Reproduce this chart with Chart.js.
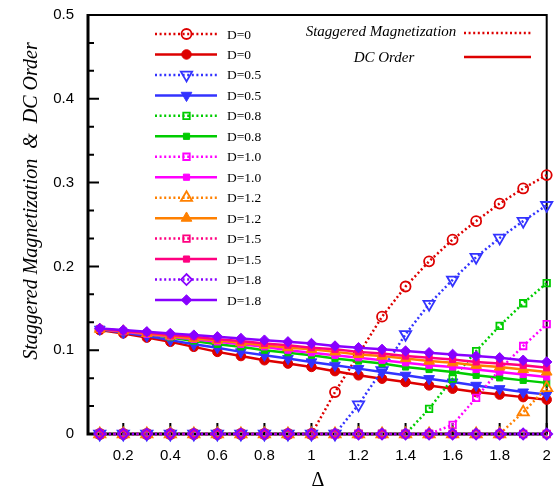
<!DOCTYPE html>
<html><head><meta charset="utf-8">
<script src="https://cdn.jsdelivr.net/npm/chart.js@4/dist/chart.umd.min.js"></script>
<style>html,body{margin:0;padding:0;background:#fff;}#wrap{width:555px;height:489px;position:relative;}</style>
</head><body><div id="wrap"><canvas id="c"></canvas></div>
<script>
// ---- data ----
const deltas = [0.1,0.2,0.3,0.4,0.5,0.6,0.7,0.8,0.9,1.0,1.1,1.2,1.3,1.4,1.5,1.6,1.7,1.8,1.9,2.0];
const dLabels = ['D=0','D=0.5','D=0.8','D=1.0','D=1.2','D=1.5','D=1.8'];

const stag_D0  = [0,0,0,0,0,0,0,0,0,0,0.050,0.095,0.140,0.176,0.206,0.232,0.254,0.275,0.293,0.309];
const stag_D05 = [0,0,0,0,0,0,0,0,0,0,0,0.035,0.076,0.119,0.155,0.184,0.211,0.234,0.254,0.273];
const stag_D08 = [0,0,0,0,0,0,0,0,0,0,0,0,0,0,0.030,0.066,0.099,0.129,0.156,0.180];
const stag_D10 = [0,0,0,0,0,0,0,0,0,0,0,0,0,0,0,0.011,0.043,0.077,0.105,0.131];
const stag_D12 = [0,0,0,0,0,0,0,0,0,0,0,0,0,0,0,0,0,0,0.026,0.055];
const stag_D15 = [0,0,0,0,0,0,0,0,0,0,0,0,0,0,0,0,0,0,0,0];
const stag_D18 = [0,0,0,0,0,0,0,0,0,0,0,0,0,0,0,0,0,0,0,0];

const dc_D0  = [0.124,0.120,0.115,0.110,0.104,0.098,0.093,0.088,0.084,0.080,0.075,0.070,0.066,0.062,0.058,0.054,0.050,0.047,0.044,0.041];
const dc_D05 = [0.125,0.121,0.117,0.112,0.107,0.103,0.098,0.094,0.090,0.086,0.082,0.078,0.074,0.070,0.066,0.062,0.058,0.054,0.050,0.047];
const dc_D08 = [0.125,0.122,0.119,0.115,0.111,0.107,0.104,0.100,0.097,0.094,0.090,0.087,0.084,0.080,0.077,0.074,0.070,0.067,0.064,0.061];
const dc_D10 = [0.125,0.122,0.119,0.116,0.113,0.110,0.107,0.104,0.100,0.097,0.094,0.091,0.088,0.085,0.082,0.080,0.077,0.074,0.071,0.068];
const dc_D12 = [0.125,0.123,0.120,0.117,0.114,0.112,0.109,0.106,0.103,0.101,0.098,0.095,0.093,0.090,0.087,0.085,0.082,0.080,0.077,0.074];
const dc_D15 = [0.126,0.123,0.121,0.118,0.116,0.113,0.111,0.108,0.106,0.103,0.101,0.098,0.096,0.093,0.091,0.089,0.086,0.084,0.082,0.079];
const dc_D18 = [0.126,0.124,0.122,0.120,0.118,0.116,0.114,0.112,0.110,0.108,0.105,0.103,0.101,0.099,0.097,0.095,0.093,0.091,0.088,0.086];

const xTickVals = [0.2,0.4,0.6,0.8,1.0,1.2,1.4,1.6,1.8,2.0];
const yTickVals = [0,0.1,0.2,0.3,0.4,0.5];

const stagSeries = [stag_D0,stag_D05,stag_D08,stag_D10,stag_D12,stag_D15,stag_D18];
const dcSeries = [dc_D0,dc_D05,dc_D08,dc_D10,dc_D12,dc_D15,dc_D18];

// ---- styles ----
const colors = ['#dd0000','#3333ff','#00cc00','#ff00ff','#ff8000','#ff0080','#8800ff'];
const marks = [
  {style:'circle', r:5, rot:0},
  {style:'triangle', r:6.5, rot:180},
  {style:'rect', r:4.6, rot:0},
  {style:'rect', r:4.6, rot:0},
  {style:'triangle', r:6.5, rot:0},
  {style:'rect', r:4.6, rot:0},
  {style:'rectRot', r:5.5, rot:0}
];

const datasets = [];
for (let k = 0; k < dLabels.length; k++) {
  const c = colors[k], m = marks[k];
  datasets.push({
    label: dLabels[k] + ' stag',
    data: deltas.map((x,i)=>({x:x, y:stagSeries[k][i]})),
    borderColor: c, borderWidth: 2.5, borderDash: [2,2.6],
    pointStyle: m.style, pointRadius: m.r, pointRotation: m.rot,
    pointBorderColor: c, pointBackgroundColor: 'rgba(0,0,0,0)', pointBorderWidth: 1.8,
    tension: 0, clip: false
  });
  datasets.push({
    label: dLabels[k] + ' dc',
    data: deltas.map((x,i)=>({x:x, y:dcSeries[k][i]})),
    borderColor: c, borderWidth: 2.5,
    pointStyle: m.style, pointRadius: m.r*0.95, pointRotation: m.rot,
    pointBorderColor: c, pointBackgroundColor: c, pointBorderWidth: 1,
    tension: 0, clip: false
  });
}
datasets.forEach((d,i)=>{ d.order = datasets.length - i; });

const fmt = v => String(+(+v).toFixed(1));
const zeroPad = s => { s.paddingLeft = 0; s.paddingRight = 0; s.paddingTop = 0; s.paddingBottom = 0; };

const framePlugin = {
  id: 'frame',
  beforeDatasetsDraw(chart) {
    const {ctx, chartArea: a, scales: {x, y}} = chart;
    ctx.save();
    ctx.strokeStyle = '#000';
    ctx.lineWidth = 2;
    ctx.beginPath();
    xTickVals.forEach(v => { const px = x.getPixelForValue(v); ctx.moveTo(px, a.bottom); ctx.lineTo(px, a.bottom - 11); });
    yTickVals.forEach(v => { const py = y.getPixelForValue(v); ctx.moveTo(a.left, py); ctx.lineTo(a.left + 11, py); });
    for (let j = 0; j <= 15; j++) {
      if (j % 3 === 0) continue;
      const py = y.getPixelForValue(j/30);
      ctx.moveTo(a.left, py); ctx.lineTo(a.left + 6, py);
    }
    ctx.stroke();
    ctx.lineWidth = 2;
    ctx.beginPath();
    ctx.moveTo(a.left, a.top); ctx.lineTo(a.right, a.top); ctx.lineTo(a.right, a.bottom);
    ctx.stroke();
    ctx.lineWidth = 3;
    ctx.beginPath();
    ctx.moveTo(a.left, a.top - 1); ctx.lineTo(a.left, a.bottom); ctx.lineTo(a.right + 1, a.bottom);
    ctx.stroke();
    ctx.restore();
  },
  afterDraw(chart) {
    const {ctx} = chart;
    ctx.save();
    ctx.fillStyle = '#000';
    ctx.font = 'italic 20px "Liberation Serif"';
    ctx.textAlign = 'center'; ctx.textBaseline = 'middle';
    ctx.save();
    ctx.translate(32, 201); ctx.rotate(-Math.PI/2);
    ctx.fillText('Staggered Magnetization  &  DC Order', 0, 0);
    ctx.restore();
    ctx.font = '20px "Liberation Serif"';
    ctx.fillText('\u0394', 318, 481);

    const ds = chart.data.datasets;
    ctx.font = '13.5px "Liberation Serif"';
    ctx.textAlign = 'left'; ctx.textBaseline = 'middle';
    for (let i = 0; i < ds.length; i++) {
      const d = ds[i];
      const yy = 34 + i * 20.46;
      ctx.strokeStyle = d.borderColor; ctx.lineWidth = 2.5;
      ctx.setLineDash(d.borderDash || []);
      ctx.beginPath(); ctx.moveTo(155, yy); ctx.lineTo(217, yy); ctx.stroke();
      ctx.setLineDash([]);
      ctx.fillStyle = d.pointBackgroundColor; ctx.strokeStyle = d.pointBorderColor;
      ctx.lineWidth = d.pointBorderWidth;
      Chart.helpers.drawPoint(ctx, {pointStyle: d.pointStyle, radius: d.pointRadius, rotation: d.pointRotation, borderWidth: d.pointBorderWidth}, 186.5, yy);
      ctx.fillStyle = '#000';
      ctx.fillText(d.label.split(' ')[0], 227, yy + 1);
    }
    ctx.font = 'italic 15px "Liberation Serif"';
    ctx.textAlign = 'center';
    ctx.fillText('Staggered Magnetization', 381, 32);
    ctx.fillText('DC Order', 384, 58);
    ctx.strokeStyle = colors[0]; ctx.lineWidth = 2.5;
    ctx.setLineDash([2,2.6]);
    ctx.beginPath(); ctx.moveTo(464, 33); ctx.lineTo(531, 33); ctx.stroke();
    ctx.setLineDash([]);
    ctx.beginPath(); ctx.moveTo(464, 57); ctx.lineTo(531, 57); ctx.stroke();
    ctx.restore();
  }
};

new Chart(document.getElementById('c'), {
  type: 'line',
  data: { datasets: datasets },
  options: {
    responsive: true, maintainAspectRatio: false, animation: false,
    layout: { padding: { top: 15, right: 7, left: 0, bottom: 0 } },
    plugins: { legend: { display: false }, tooltip: { enabled: false } },
    scales: {
      x: {
        type: 'linear', min: 0.05, max: 2.0,
        afterBuildTicks: s => { s.ticks = xTickVals.map(v => ({value: v})); },
        afterFit: s => { s.height = 55; zeroPad(s); },
        grid: { display: false, drawTicks: false },
        border: { display: false },
        ticks: { callback: v => fmt(v), color: '#000', padding: 13, maxRotation: 0, autoSkip: false,
                 font: { family: '"Liberation Sans"', size: 15 } }
      },
      y: {
        type: 'linear', min: 0, max: 0.5,
        afterBuildTicks: s => { s.ticks = yTickVals.map(v => ({value: v})); },
        afterFit: s => { s.width = 88; zeroPad(s); },
        grid: { display: false, drawTicks: false },
        border: { display: false },
        ticks: { callback: v => fmt(v), color: '#000', padding: 14,
                 font: { family: '"Liberation Sans"', size: 15 } }
      }
    }
  },
  plugins: [framePlugin]
});
</script>
</body></html>
